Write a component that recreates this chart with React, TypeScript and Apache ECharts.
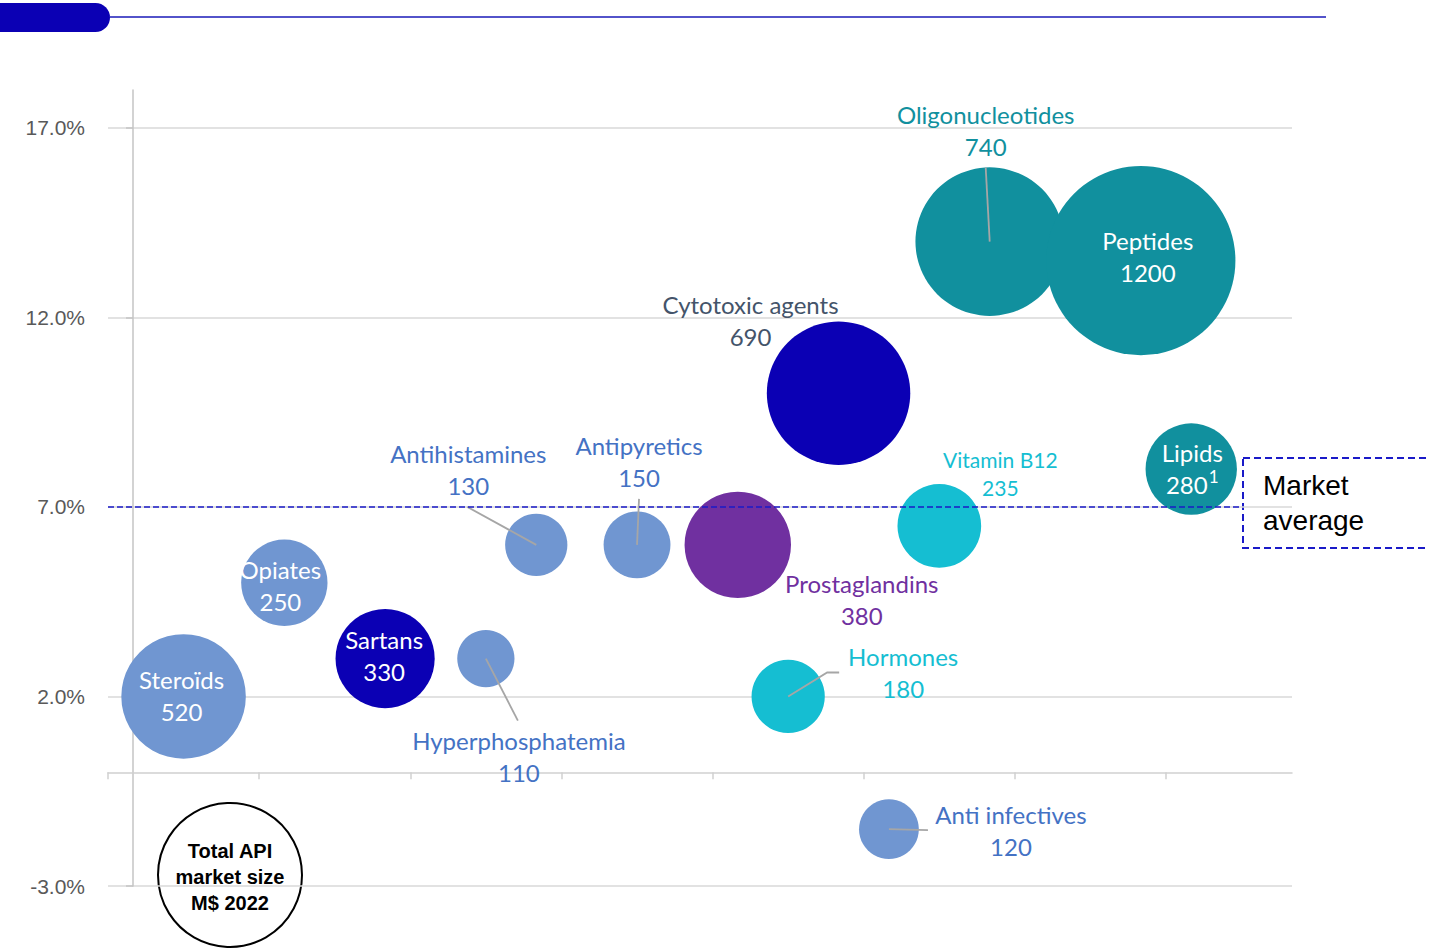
import React, { useEffect, useRef } from 'react';
import * as echarts from 'echarts';

// ---- data ----
const categories = ['Steroïds', 'Opiates', 'Sartans', 'Hyperphosphatemia', 'Antihistamines', 'Antipyretics', 'Prostaglandins', 'Hormones', 'Cytotoxic agents', 'Anti infectives', 'Vitamin B12', 'Oligonucleotides', 'Peptides', 'Lipids'];
const xPositions = [1.5, 3.5, 5.5, 7.5, 8.5, 10.5, 12.5, 13.5, 14.5, 15.5, 16.5, 17.5, 20.5, 21.5];
const growthPct = [2.0, 5.0, 3.0, 3.0, 6.0, 6.0, 6.0, 2.0, 10.0, -1.5, 6.5, 14.0, 13.5, 8.0];
const marketSize = [520, 250, 330, 110, 130, 150, 380, 180, 690, 120, 235, 740, 1200, 280];
const sizeLabels = ['520', '250', '330', '110', '130', '150', '380', '180', '690', '120', '235', '740', '1200', '280'];
const footnotes = ['', '', '', '', '', '', '', '', '', '', '', '', '', '1'];
const groups = ['light', 'light', 'dark', 'light', 'light', 'light', 'purple', 'cyan', 'dark', 'light', 'cyan', 'teal', 'teal', 'teal'];
const marketAverage = 7.0;
const yTickValues = [-3, 2, 7, 12, 17];
const xTickValues = [0, 3, 6, 9, 12, 15, 18, 21];

// ---- styles ----
const groupColors: Record<string, string> = {
  light: '#7096D1',
  dark: '#0B00B4',
  purple: '#7030A0',
  cyan: '#15BED2',
  teal: '#11909E',
};
// label offset (px, from bubble centre), colour, font size
const labelStyles = [
  { dx: -2, dy: -1, color: '#FFFFFF', size: 24 },
  { dx: -4, dy: 3, color: '#FFFFFF', size: 24 },
  { dx: -1, dy: -3, color: '#FFFFFF', size: 24 },
  { dx: 33, dy: 98, color: '#4472C4', size: 24 },
  { dx: -68, dy: -75, color: '#4472C4', size: 24 },
  { dx: 2, dy: -83, color: '#4472C4', size: 24 },
  { dx: 124, dy: 55, color: '#7030A0', size: 24 },
  { dx: 115, dy: -24, color: '#15BED2', size: 24 },
  { dx: -88, dy: -73, color: '#44546A', size: 24 },
  { dx: 122, dy: 1, color: '#4472C4', size: 24 },
  { dx: 61, dy: -52, color: '#15BED2', size: 21 },
  { dx: -4, dy: -111, color: '#11909E', size: 24 },
  { dx: 7, dy: -4, color: '#FFFFFF', size: 24 },
  { dx: 1, dy: -1, color: '#FFFFFF', size: 24 },
];
// leader lines: points relative to bubble centre (px)
const leaderLines: Record<number, number[][]> = {
  3: [[32, 62]],
  4: [[-69, -38]],
  5: [[2, -46]],
  7: [[39, -24], [51, -24]],
  9: [[39, 1]],
  11: [[-4, -74]],
};

const BUBBLE_SCALE = 5.46;
const LABEL_FONT = 'Lato, "Open Sans", sans-serif';
const AXIS_FONT = '"Liberation Sans", Arial, sans-serif';

export default function App() {
  const ref = useRef<HTMLDivElement>(null);

  useEffect(() => {
    if (!ref.current) return;
    const chart = echarts.init(ref.current, null, { renderer: 'svg' });

    const bubbleData = categories.map((name, i) => {
      const s = labelStyles[i];
      const lh = Math.round(s.size * 1.34);
      return {
        name,
        value: [xPositions[i], growthPct[i], marketSize[i]],
        itemStyle: { color: groupColors[groups[i]] },
        label: {
          offset: [s.dx, s.dy],
          color: s.color,
          fontSize: s.size,
          lineHeight: lh,
          rich: {
            sup: {
              color: s.color,
              fontSize: Math.round(s.size * 0.7),
              fontFamily: LABEL_FONT,
              lineHeight: lh,
              verticalAlign: 'top',
              padding: [0, 0, Math.round(s.size * 0.4), 1],
            },
          },
        },
      };
    });

    const leaderData = Object.keys(leaderLines).map((k) => {
      const i = Number(k);
      return [xPositions[i], growthPct[i], i];
    });

    const option: any = {
      animation: false,
      backgroundColor: '#FFFFFF',
      grid: { left: 108, right: 137, top: 90, bottom: 66, containLabel: false },
      xAxis: {
        type: 'value',
        min: 0,
        max: 23.5,
        interval: 3,
        axisLine: { onZero: true, lineStyle: { color: '#D0D0D0', width: 1.5 } },
        axisTick: { show: true, length: 7, customValues: xTickValues, lineStyle: { color: '#D0D0D0', width: 1.5 } },
        axisLabel: { show: false },
        splitLine: { show: false },
      },
      yAxis: {
        type: 'value',
        min: -3,
        max: 18,
        interval: 5,
        offset: -25,
        axisLine: { show: true, onZero: false, lineStyle: { color: '#C4C4C4', width: 1.5 } },
        axisTick: { show: true, length: 7, customValues: yTickValues, lineStyle: { color: '#C4C4C4', width: 1.5 } },
        axisLabel: {
          customValues: yTickValues,
          margin: 48,
          color: '#595959',
          fontSize: 21,
          fontFamily: AXIS_FONT,
          formatter: (v: number) => v.toFixed(1) + '%',
        },
        splitLine: { show: true, lineStyle: { color: '#D9D9D9', width: 1.5 } },
      },
      series: [
        {
          type: 'scatter',
          z: 2,
          data: bubbleData,
          symbolSize: (val: number[]) => BUBBLE_SCALE * Math.sqrt(val[2]),
          itemStyle: { opacity: 1 },
          label: {
            show: true,
            position: 'inside',
            align: 'center',
            verticalAlign: 'middle',
            fontFamily: LABEL_FONT,
            formatter: (p: any) => {
              const fn = footnotes[p.dataIndex];
              return `${p.name}\n${sizeLabels[p.dataIndex]}` + (fn ? `{sup|${fn}}` : '');
            },
          },
          emphasis: { disabled: true },
        },
        {
          type: 'custom',
          z: 4,
          silent: true,
          clip: false,
          data: leaderData,
          encode: { x: 0, y: 1 },
          renderItem: (params: any, api: any) => {
            const c = api.coord([api.value(0), api.value(1)]);
            const idx = api.value(2);
            const pts = [[c[0], c[1]], ...leaderLines[idx].map((o) => [c[0] + o[0], c[1] + o[1]])];
            return {
              type: 'polyline',
              shape: { points: pts },
              style: { stroke: '#A6A6A6', lineWidth: 1.8, fill: 'none' },
            };
          },
          markLine: {
            silent: true,
            symbol: 'none',
            z: 6,
            label: { show: false },
            lineStyle: { color: '#1A1AC8', width: 1.5, type: [6, 3] },
            data: [[{ coord: [0, marketAverage] }, { coord: [22.5, marketAverage] }]],
          },
        },
      ],
      graphic: [
        {
          type: 'rect',
          shape: { x: 0, y: 3, width: 110, height: 29, r: [0, 14.5, 14.5, 0] },
          style: { fill: '#0B00B4' },
        },
        {
          type: 'line',
          shape: { x1: 110, y1: 17, x2: 1326, y2: 17 },
          style: { stroke: '#1A1AB8', lineWidth: 1.5 },
        },
        {
          type: 'rect',
          shape: { x: 1243, y: 458, width: 200, height: 90 },
          style: { fill: 'none', stroke: '#1A1AC8', lineWidth: 2, lineDash: [7, 4] },
        },
        {
          type: 'text',
          x: 1263,
          y: 468,
          style: {
            text: 'Market\naverage',
            font: '28px "Liberation Sans", Arial, sans-serif',
            fill: '#000000',
            lineHeight: 35,
            verticalAlign: 'top',
            align: 'left',
          },
        },
        {
          type: 'circle',
          shape: { cx: 230, cy: 875, r: 72 },
          style: { fill: 'none', stroke: '#000000', lineWidth: 2 },
        },
        {
          type: 'text',
          x: 230,
          y: 877,
          style: {
            text: 'Total API\nmarket size\nM$ 2022',
            font: 'bold 20px "Liberation Sans", Arial, sans-serif',
            fill: '#000000',
            lineHeight: 26,
            align: 'center',
            verticalAlign: 'middle',
          },
        },
      ],
    };

    chart.setOption(option);
    return () => chart.dispose();
  }, []);

  return (
    <div
      ref={ref}
      style={{ position: 'absolute', left: 0, top: 0, width: 1429, height: 952, background: '#fff' }}
    />
  );
}
